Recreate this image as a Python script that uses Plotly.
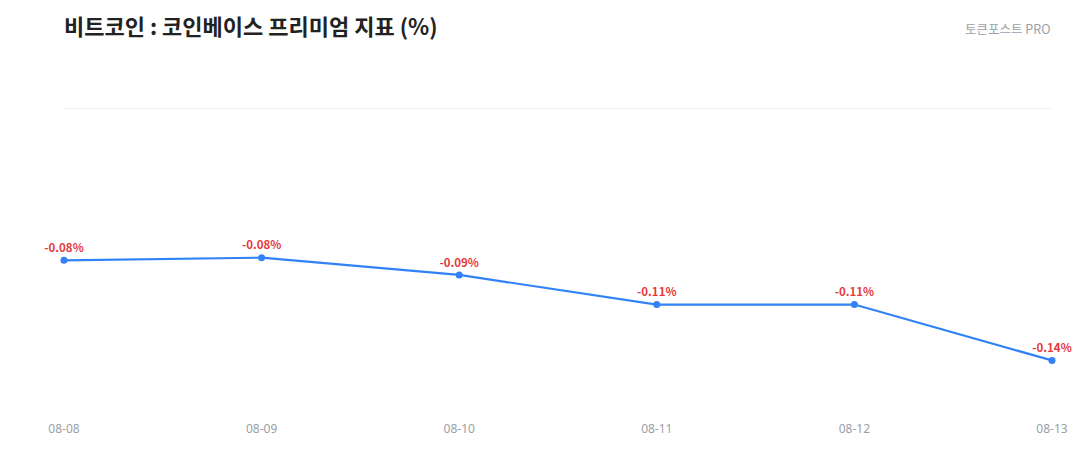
import plotly.graph_objects as go

# 날짜와 코인베이스 프리미엄 값 (%)
dates = ["08-08", "08-09", "08-10", "08-11", "08-12", "08-13"]
premium = [-0.0845, -0.083, -0.0926, -0.109, -0.109, -0.14]

fig = go.Figure()

fig.add_trace(go.Scatter(
    x=dates,
    y=premium,
    mode="lines+markers+text",
    line=dict(color="#3182f6", width=2.2),
    marker=dict(color="#3182f6", size=7),
    texttemplate="%{y:.2f}%",
    textposition="top center",
    textfont=dict(color="#e5393b", size=11.5, family="Noto Sans CJK KR", weight="bold"),
    cliponaxis=False,
    hoverinfo="skip",
))

# 0% 기준선 (plotly는 가장자리 그리드선을 숨기므로 직접 그림)
fig.add_shape(
    type="line", xref="paper", yref="y",
    x0=0, x1=1, y0=0, y1=0,
    line=dict(color="#e1e4e8", width=1),
    layer="below",
)

fig.update_layout(
    width=1080,
    height=460,
    margin=dict(l=64, r=28, t=108, b=50),
    paper_bgcolor="white",
    plot_bgcolor="white",
    showlegend=False,
    font=dict(family="Noto Sans CJK KR"),
    title=dict(
        text="<b>비트코인 : 코인베이스 프리미엄 지표 (%)</b>",
        x=64 / 1080, xanchor="left",
        y=1 - 27 / 460, yanchor="middle",
        font=dict(size=22, color="#222222", family="Noto Sans CJK KR"),
    ),
    annotations=[dict(
        text="토큰포스트 PRO",
        xref="paper", yref="paper",
        x=1, y=1 + 79 / 302,
        xanchor="right", yanchor="middle",
        showarrow=False,
        font=dict(size=12.5, color="#9aa0a8", family="Noto Sans CJK KR"),
    )],
)

fig.update_xaxes(
    type="category",
    range=[0, 5],
    showgrid=False,
    zeroline=False,
    showline=False,
    ticks="",
    ticklabelstandoff=10,
    tickfont=dict(size=12, color="#9aa0a8", family="Noto Sans"),
)

fig.update_yaxes(
    range=[-0.1675, 0],
    showticklabels=False,
    showgrid=False,
    zeroline=False,
    showline=False,
)

fig.write_html(
    "out.html",
    config={"displayModeBar": False},
    post_script="document.body.style.margin='0';",
)
